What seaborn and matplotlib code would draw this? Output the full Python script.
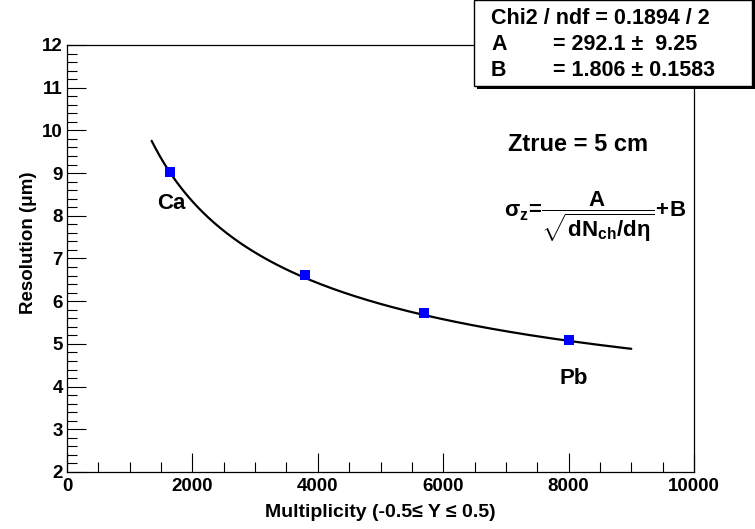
import numpy as np
import matplotlib
matplotlib.use("Agg")
import matplotlib.pyplot as plt
from matplotlib.patches import Rectangle
from matplotlib.ticker import MultipleLocator
import seaborn as sns

# ==========================================
# data
# ==========================================
multiplicity = [1650, 3800, 5700, 8000]
resolution = [9.02, 6.62, 5.72, 5.09]
system_labels = ["Ca", "Pb"]

# fit parameters from the stat box: sigma = A / sqrt(N) + B
FIT_A = 292.1
FIT_B = 1.806
fit_range = [1350, 9000]

stat_lines = ["Chi2 / ndf = 0.1894 / 2", "A", "B"]
stat_values = ["", "= 292.1 \u00b1  9.25", "= 1.806 \u00b1 0.1583"]

# ==========================================
# style
# ==========================================
sns.set_theme(style="white")
plt.rcParams['font.family'] = ['Liberation Sans', 'DejaVu Sans']
plt.rcParams['font.weight'] = 'bold'
plt.rcParams['text.color'] = 'black'
plt.rcParams['axes.labelcolor'] = 'black'
plt.rcParams['xtick.color'] = 'black'
plt.rcParams['ytick.color'] = 'black'
plt.rcParams['mathtext.fontset'] = 'custom'
plt.rcParams['mathtext.rm'] = 'Liberation Sans:bold'
plt.rcParams['mathtext.bf'] = 'Liberation Sans:bold'
plt.rcParams['mathtext.it'] = 'Liberation Sans:bold'

W, H = 755, 529
fig = plt.figure(figsize=(W / 100, H / 100), dpi=100)
fig.patch.set_facecolor('white')
ax = fig.add_axes([67 / W, 57 / H, 627 / W, 427 / H])

# fit curve
fx = np.linspace(fit_range[0], fit_range[1], 300)
fy = FIT_A / np.sqrt(fx) + FIT_B
sns.lineplot(x=fx, y=fy, ax=ax, color='black', linewidth=1.6, sort=False)

# data points
sns.scatterplot(x=multiplicity, y=resolution, ax=ax, marker='s', s=45,
                color='#0000ff', edgecolor='#0000ff', linewidth=0, zorder=3)

ax.set_xlim(0, 10000)
ax.set_ylim(2, 12)
ax.xaxis.set_major_locator(MultipleLocator(2000))
ax.xaxis.set_minor_locator(MultipleLocator(500))
ax.yaxis.set_major_locator(MultipleLocator(1))
ax.yaxis.set_minor_locator(MultipleLocator(0.2))
ax.tick_params(which='both', direction='in', top=False, right=False,
               bottom=True, left=True, color='black', labelcolor='black', width=0.8)
ax.tick_params(which='major', length=14, labelsize=13.5, pad=4)
ax.tick_params(which='minor', length=7)
ax.tick_params(axis='y', which='major', pad=3)
for sp in ax.spines.values():
    sp.set_color('black')
    sp.set_linewidth(0.9)
for lab in ax.get_xticklabels() + ax.get_yticklabels():
    lab.set_fontweight('bold')

ax.set_xlabel("Multiplicity (-0.5\u2264 Y \u2264 0.5)", fontsize=14, fontweight='bold', color='black')
ax.set_ylabel("Resolution (\u03bcm)", fontsize=13.5, fontweight='bold', color='black')
ax.xaxis.set_label_coords(0.5, -0.075)
ax.yaxis.set_label_coords(-0.048, 0.536)

# annotations
ax.text(1667, 8.28, system_labels[0], fontsize=16, fontweight='bold', ha='center', va='center')
ax.text(8086, 4.20, system_labels[1], fontsize=16, fontweight='bold', ha='center', va='center')
ax.text(8150, 9.66, "Ztrue = 5 cm", fontsize=17, fontweight='bold', ha='center', va='center')
ax.text(8420, 7.97, r"$\sigma_z\!=\!\dfrac{\mathbf{A}}{\sqrt{\mathbf{dN_{ch}/d\eta}}}\!+\!\mathbf{B}$",
        fontsize=16, ha='center', va='center')

# stat box (ROOT style with shadow)
fig.patches.append(Rectangle((477 / W, 1 - 89 / H), (W - 477) / W, 89 / H,
                             transform=fig.transFigure, facecolor='black',
                             edgecolor='none', zorder=5))
fig.patches.append(Rectangle((474 / W, 1 - 86 / H), (W - 3 - 474) / W, 86 / H,
                             transform=fig.transFigure, facecolor='white',
                             edgecolor='black', linewidth=1.0, zorder=6))
rows_y = [18, 45, 71]
for name, val, yy in zip(stat_lines, stat_values, rows_y):
    fig.text(491 / W, 1 - yy / H, name, fontsize=15.5, fontweight='bold',
             ha='left', va='center', zorder=7)
    if val:
        fig.text(553 / W, 1 - yy / H, val, fontsize=15.5, fontweight='bold',
                 ha='left', va='center', zorder=7)

plt.savefig('out.png', dpi=100)
